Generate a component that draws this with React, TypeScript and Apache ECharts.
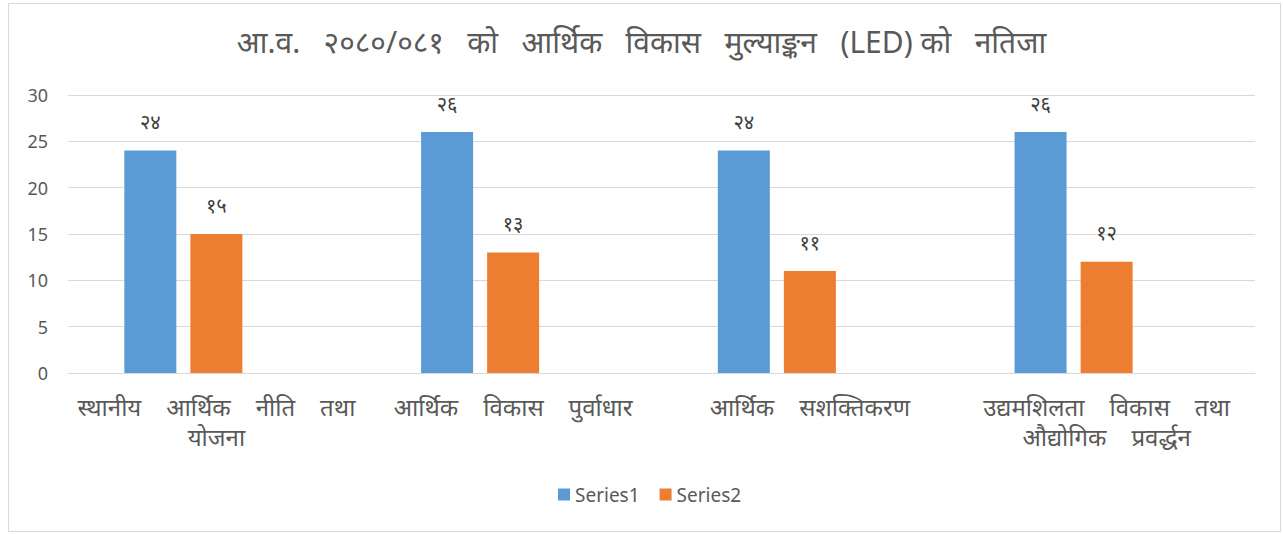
import React, { useEffect, useRef } from "react";
import * as echarts from "echarts";

const titleText = "आ.व.   २०८०/०८१   को   आर्थिक   विकास   मुल्याङ्कन   (LED) को   नतिजा";
const categories = [
  "स्थानीय    आर्थिक    नीति    तथा\nयोजना",
  "आर्थिक    विकास    पुर्वाधार",
  "आर्थिक    सशक्तिकरण",
  "उद्यमशिलता    विकास    तथा\nऔद्योगिक    प्रवर्द्धन",
];
const series1 = [24, 26, 24, 26];
const series2 = [15, 13, 11, 12];
const seriesNames = ["Series1", "Series2"];
const yTicks = [0, 5, 10, 15, 20, 25, 30];

const devDigits = ["०", "१", "२", "३", "४", "५", "६", "७", "८", "९"];
const toDev = (n: number) =>
  String(n)
    .split("")
    .map((c) => (c >= "0" && c <= "9" ? devDigits[+c] : c))
    .join("");

const FONT = "'Noto Sans', 'Noto Sans Devanagari', 'Lohit Devanagari', sans-serif";

export default function App() {
  const ref = useRef<HTMLDivElement>(null);
  useEffect(() => {
    if (!ref.current) return;
    const chart = echarts.init(ref.current, undefined, { renderer: "svg" });
    const labelCfg = {
      show: true,
      position: "top" as const,
      distance: 19,
      color: "#404040",
      fontSize: 20,
      fontFamily: FONT,
      formatter: (p: any) => toDev(p.value),
    };
    chart.setOption({
      animation: false,
      backgroundColor: "#ffffff",
      textStyle: { fontFamily: FONT },
      title: {
        text: titleText,
        left: "center",
        top: 21,
        textStyle: { fontSize: 30, fontWeight: "normal", color: "#595959", fontFamily: FONT },
      },
      graphic: [
        {
          type: "rect",
          shape: { x: 8.5, y: 3.5, width: 1272, height: 528 },
          style: { fill: "none", stroke: "#d9d9d9", lineWidth: 1 },
          silent: true,
        },
      ],
      legend: {
        data: seriesNames,
        bottom: 25,
        left: 553,
        itemWidth: 12,
        itemHeight: 12,
        itemGap: 20,
        icon: "rect",
        textStyle: { fontSize: 19, color: "#595959", fontFamily: FONT },
      },
      grid: { left: 68, right: 28, top: 95, bottom: 161, containLabel: false },
      xAxis: {
        type: "category",
        data: categories,
        axisLine: { lineStyle: { color: "#d9d9d9" } },
        axisTick: { show: false },
        axisLabel: {
          interval: 0,
          fontSize: 24,
          color: "#595959",
          lineHeight: 30,
          margin: 18,
          align: "center",
          fontFamily: FONT,
        },
      },
      yAxis: {
        type: "value",
        min: yTicks[0],
        max: yTicks[yTicks.length - 1],
        interval: 5,
        axisLine: { show: false },
        axisTick: { show: false },
        splitLine: { lineStyle: { color: "#d9d9d9", width: 1 } },
        axisLabel: { fontSize: 18, color: "#595959", margin: 20, fontFamily: FONT },
      },
      series: [
        {
          name: seriesNames[0],
          type: "bar",
          data: series1,
          barWidth: 52,
          barGap: "27%",
          itemStyle: { color: "#5b9bd5" },
          label: labelCfg,
        },
        {
          name: seriesNames[1],
          type: "bar",
          data: series2,
          barWidth: 52,
          barGap: "27%",
          itemStyle: { color: "#ed7d31" },
          label: labelCfg,
        },
        {
          name: "empty",
          type: "bar",
          data: [null, null, null, null],
          barWidth: 52,
          barGap: "27%",
        },
      ],
    });
    return () => chart.dispose();
  }, []);
  return (
    <div
      ref={ref}
      style={{ position: "fixed", left: 0, top: 0, width: 1283, height: 534 }}
    />
  );
}
